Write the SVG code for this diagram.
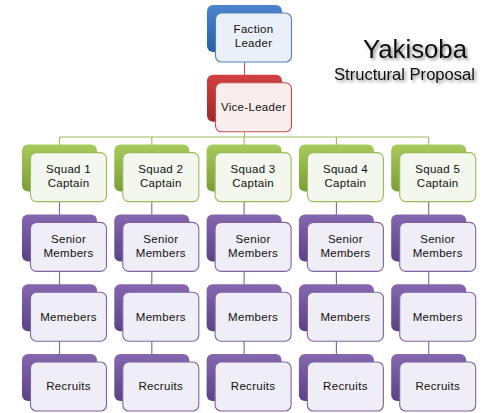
<svg xmlns="http://www.w3.org/2000/svg" width="500" height="413" viewBox="0 0 500 413">
<defs>
<linearGradient id="gB" x1="0" y1="0" x2="0" y2="1"><stop offset="0" stop-color="#4d84d0"/><stop offset="1" stop-color="#2b5da8"/></linearGradient>
<linearGradient id="gR" x1="0" y1="0" x2="0" y2="1"><stop offset="0" stop-color="#d24141"/><stop offset="1" stop-color="#a02828"/></linearGradient>
<linearGradient id="gG" x1="0" y1="0" x2="0" y2="1"><stop offset="0" stop-color="#a8ca5c"/><stop offset="1" stop-color="#7a9f38"/></linearGradient>
<linearGradient id="gP" x1="0" y1="0" x2="0" y2="1"><stop offset="0" stop-color="#8567b0"/><stop offset="1" stop-color="#5b4286"/></linearGradient>
<filter id="sh" x="-10%" y="-30%" width="130%" height="180%"><feGaussianBlur in="SourceAlpha" stdDeviation="1.6"/><feOffset dx="1.5" dy="2" result="b"/><feComponentTransfer><feFuncA type="linear" slope="0.45"/></feComponentTransfer><feMerge><feMergeNode/><feMergeNode in="SourceGraphic"/></feMerge></filter>
</defs>
<style>
.bk{stroke:none}
.fr{stroke-width:1.1}
.b .bk{fill:url(#gB)} .b .fr{fill:#ebf0f8;stroke:#4f81bd}
.r .bk{fill:url(#gR)} .r .fr{fill:#f9eded;stroke:#c0504d}
.g .bk{fill:url(#gG)} .g .fr{fill:#f3f7ed;stroke:#9bbb59}
.p .bk{fill:url(#gP)} .p .fr{fill:#efedf5;stroke:#8064a2}
text{font-family:"Liberation Sans",Arial,sans-serif;fill:#111}
.t{font-size:11.5px;text-anchor:middle;letter-spacing:0.3px}
.cn line{stroke-width:1.1;fill:none}
</style>
<g id="connectors" class="cn">
<line x1="244.5" y1="30" x2="244.5" y2="76" stroke="#c0504d"/>
<line x1="244.5" y1="100" x2="244.5" y2="137" stroke="#9bbb59"/>
<line x1="59.5" y1="137" x2="428.7" y2="137" stroke="#9bbb59"/>
<line x1="59.5" y1="137" x2="59.5" y2="146" stroke="#9bbb59"/>
<line x1="151.8" y1="137" x2="151.8" y2="146" stroke="#9bbb59"/>
<line x1="244.1" y1="137" x2="244.1" y2="146" stroke="#9bbb59"/>
<line x1="336.4" y1="137" x2="336.4" y2="146" stroke="#9bbb59"/>
<line x1="428.7" y1="137" x2="428.7" y2="146" stroke="#9bbb59"/>
<line x1="59.5" y1="170" x2="59.5" y2="380" stroke="#8064a2"/>
<line x1="151.8" y1="170" x2="151.8" y2="380" stroke="#8064a2"/>
<line x1="244.1" y1="170" x2="244.1" y2="380" stroke="#8064a2"/>
<line x1="336.4" y1="170" x2="336.4" y2="380" stroke="#8064a2"/>
<line x1="428.7" y1="170" x2="428.7" y2="380" stroke="#8064a2"/>
</g>
<g id="title" filter="url(#sh)">
<text x="363" y="57.5" font-size="25.5" textLength="104" lengthAdjust="spacingAndGlyphs">Yakisoba</text>
<text x="334" y="80" font-size="16" textLength="141" lengthAdjust="spacingAndGlyphs">Structural Proposal</text>
</g>
<g id="faction-leader" class="b"><rect class="bk" x="207" y="5" width="75" height="47" rx="6"/><rect class="fr" x="215.5" y="13" width="76" height="49" rx="6"/><text class="t" x="253.5" y="33">Faction</text><text class="t" x="253.5" y="47">Leader</text></g>
<g id="vice-leader" class="r"><rect class="bk" x="207" y="74.8" width="75" height="47" rx="6"/><rect class="fr" x="215.5" y="82.8" width="76" height="49" rx="6"/><text class="t" x="253.5" y="111.3">Vice-Leader</text></g>
<g id="squad1" class="g"><rect class="bk" x="22" y="144.6" width="75" height="47" rx="6"/><rect class="fr" x="30.5" y="152.6" width="76" height="49" rx="6"/><text class="t" x="68.5" y="173">Squad 1</text><text class="t" x="68.5" y="187">Captain</text></g>
<g id="squad2" class="g"><rect class="bk" x="114.3" y="144.6" width="75" height="47" rx="6"/><rect class="fr" x="122.8" y="152.6" width="76" height="49" rx="6"/><text class="t" x="160.8" y="173">Squad 2</text><text class="t" x="160.8" y="187">Captain</text></g>
<g id="squad3" class="g"><rect class="bk" x="206.6" y="144.6" width="75" height="47" rx="6"/><rect class="fr" x="215.1" y="152.6" width="76" height="49" rx="6"/><text class="t" x="253.1" y="173">Squad 3</text><text class="t" x="253.1" y="187">Captain</text></g>
<g id="squad4" class="g"><rect class="bk" x="298.9" y="144.6" width="75" height="47" rx="6"/><rect class="fr" x="307.4" y="152.6" width="76" height="49" rx="6"/><text class="t" x="345.4" y="173">Squad 4</text><text class="t" x="345.4" y="187">Captain</text></g>
<g id="squad5" class="g"><rect class="bk" x="391.2" y="144.6" width="75" height="47" rx="6"/><rect class="fr" x="399.7" y="152.6" width="76" height="49" rx="6"/><text class="t" x="437.7" y="173">Squad 5</text><text class="t" x="437.7" y="187">Captain</text></g>
<g id="senior1" class="p"><rect class="bk" x="22" y="214.4" width="75" height="47" rx="6"/><rect class="fr" x="30.5" y="222.4" width="76" height="49" rx="6"/><text class="t" x="68.5" y="242.8">Senior</text><text class="t" x="68.5" y="256.8">Members</text></g>
<g id="senior2" class="p"><rect class="bk" x="114.3" y="214.4" width="75" height="47" rx="6"/><rect class="fr" x="122.8" y="222.4" width="76" height="49" rx="6"/><text class="t" x="160.8" y="242.8">Senior</text><text class="t" x="160.8" y="256.8">Members</text></g>
<g id="senior3" class="p"><rect class="bk" x="206.6" y="214.4" width="75" height="47" rx="6"/><rect class="fr" x="215.1" y="222.4" width="76" height="49" rx="6"/><text class="t" x="253.1" y="242.8">Senior</text><text class="t" x="253.1" y="256.8">Members</text></g>
<g id="senior4" class="p"><rect class="bk" x="298.9" y="214.4" width="75" height="47" rx="6"/><rect class="fr" x="307.4" y="222.4" width="76" height="49" rx="6"/><text class="t" x="345.4" y="242.8">Senior</text><text class="t" x="345.4" y="256.8">Members</text></g>
<g id="senior5" class="p"><rect class="bk" x="391.2" y="214.4" width="75" height="47" rx="6"/><rect class="fr" x="399.7" y="222.4" width="76" height="49" rx="6"/><text class="t" x="437.7" y="242.8">Senior</text><text class="t" x="437.7" y="256.8">Members</text></g>
<g id="members1" class="p"><rect class="bk" x="22" y="284.2" width="75" height="47" rx="6"/><rect class="fr" x="30.5" y="292.2" width="76" height="49" rx="6"/><text class="t" x="68.5" y="320.5">Memebers</text></g>
<g id="members2" class="p"><rect class="bk" x="114.3" y="284.2" width="75" height="47" rx="6"/><rect class="fr" x="122.8" y="292.2" width="76" height="49" rx="6"/><text class="t" x="160.8" y="320.5">Members</text></g>
<g id="members3" class="p"><rect class="bk" x="206.6" y="284.2" width="75" height="47" rx="6"/><rect class="fr" x="215.1" y="292.2" width="76" height="49" rx="6"/><text class="t" x="253.1" y="320.5">Members</text></g>
<g id="members4" class="p"><rect class="bk" x="298.9" y="284.2" width="75" height="47" rx="6"/><rect class="fr" x="307.4" y="292.2" width="76" height="49" rx="6"/><text class="t" x="345.4" y="320.5">Members</text></g>
<g id="members5" class="p"><rect class="bk" x="391.2" y="284.2" width="75" height="47" rx="6"/><rect class="fr" x="399.7" y="292.2" width="76" height="49" rx="6"/><text class="t" x="437.7" y="320.5">Members</text></g>
<g id="recruits1" class="p"><rect class="bk" x="22" y="354" width="75" height="47" rx="6"/><rect class="fr" x="30.5" y="362" width="76" height="49" rx="6"/><text class="t" x="68.5" y="390.3">Recruits</text></g>
<g id="recruits2" class="p"><rect class="bk" x="114.3" y="354" width="75" height="47" rx="6"/><rect class="fr" x="122.8" y="362" width="76" height="49" rx="6"/><text class="t" x="160.8" y="390.3">Recruits</text></g>
<g id="recruits3" class="p"><rect class="bk" x="206.6" y="354" width="75" height="47" rx="6"/><rect class="fr" x="215.1" y="362" width="76" height="49" rx="6"/><text class="t" x="253.1" y="390.3">Recruits</text></g>
<g id="recruits4" class="p"><rect class="bk" x="298.9" y="354" width="75" height="47" rx="6"/><rect class="fr" x="307.4" y="362" width="76" height="49" rx="6"/><text class="t" x="345.4" y="390.3">Recruits</text></g>
<g id="recruits5" class="p"><rect class="bk" x="391.2" y="354" width="75" height="47" rx="6"/><rect class="fr" x="399.7" y="362" width="76" height="49" rx="6"/><text class="t" x="437.7" y="390.3">Recruits</text></g>
</svg>
